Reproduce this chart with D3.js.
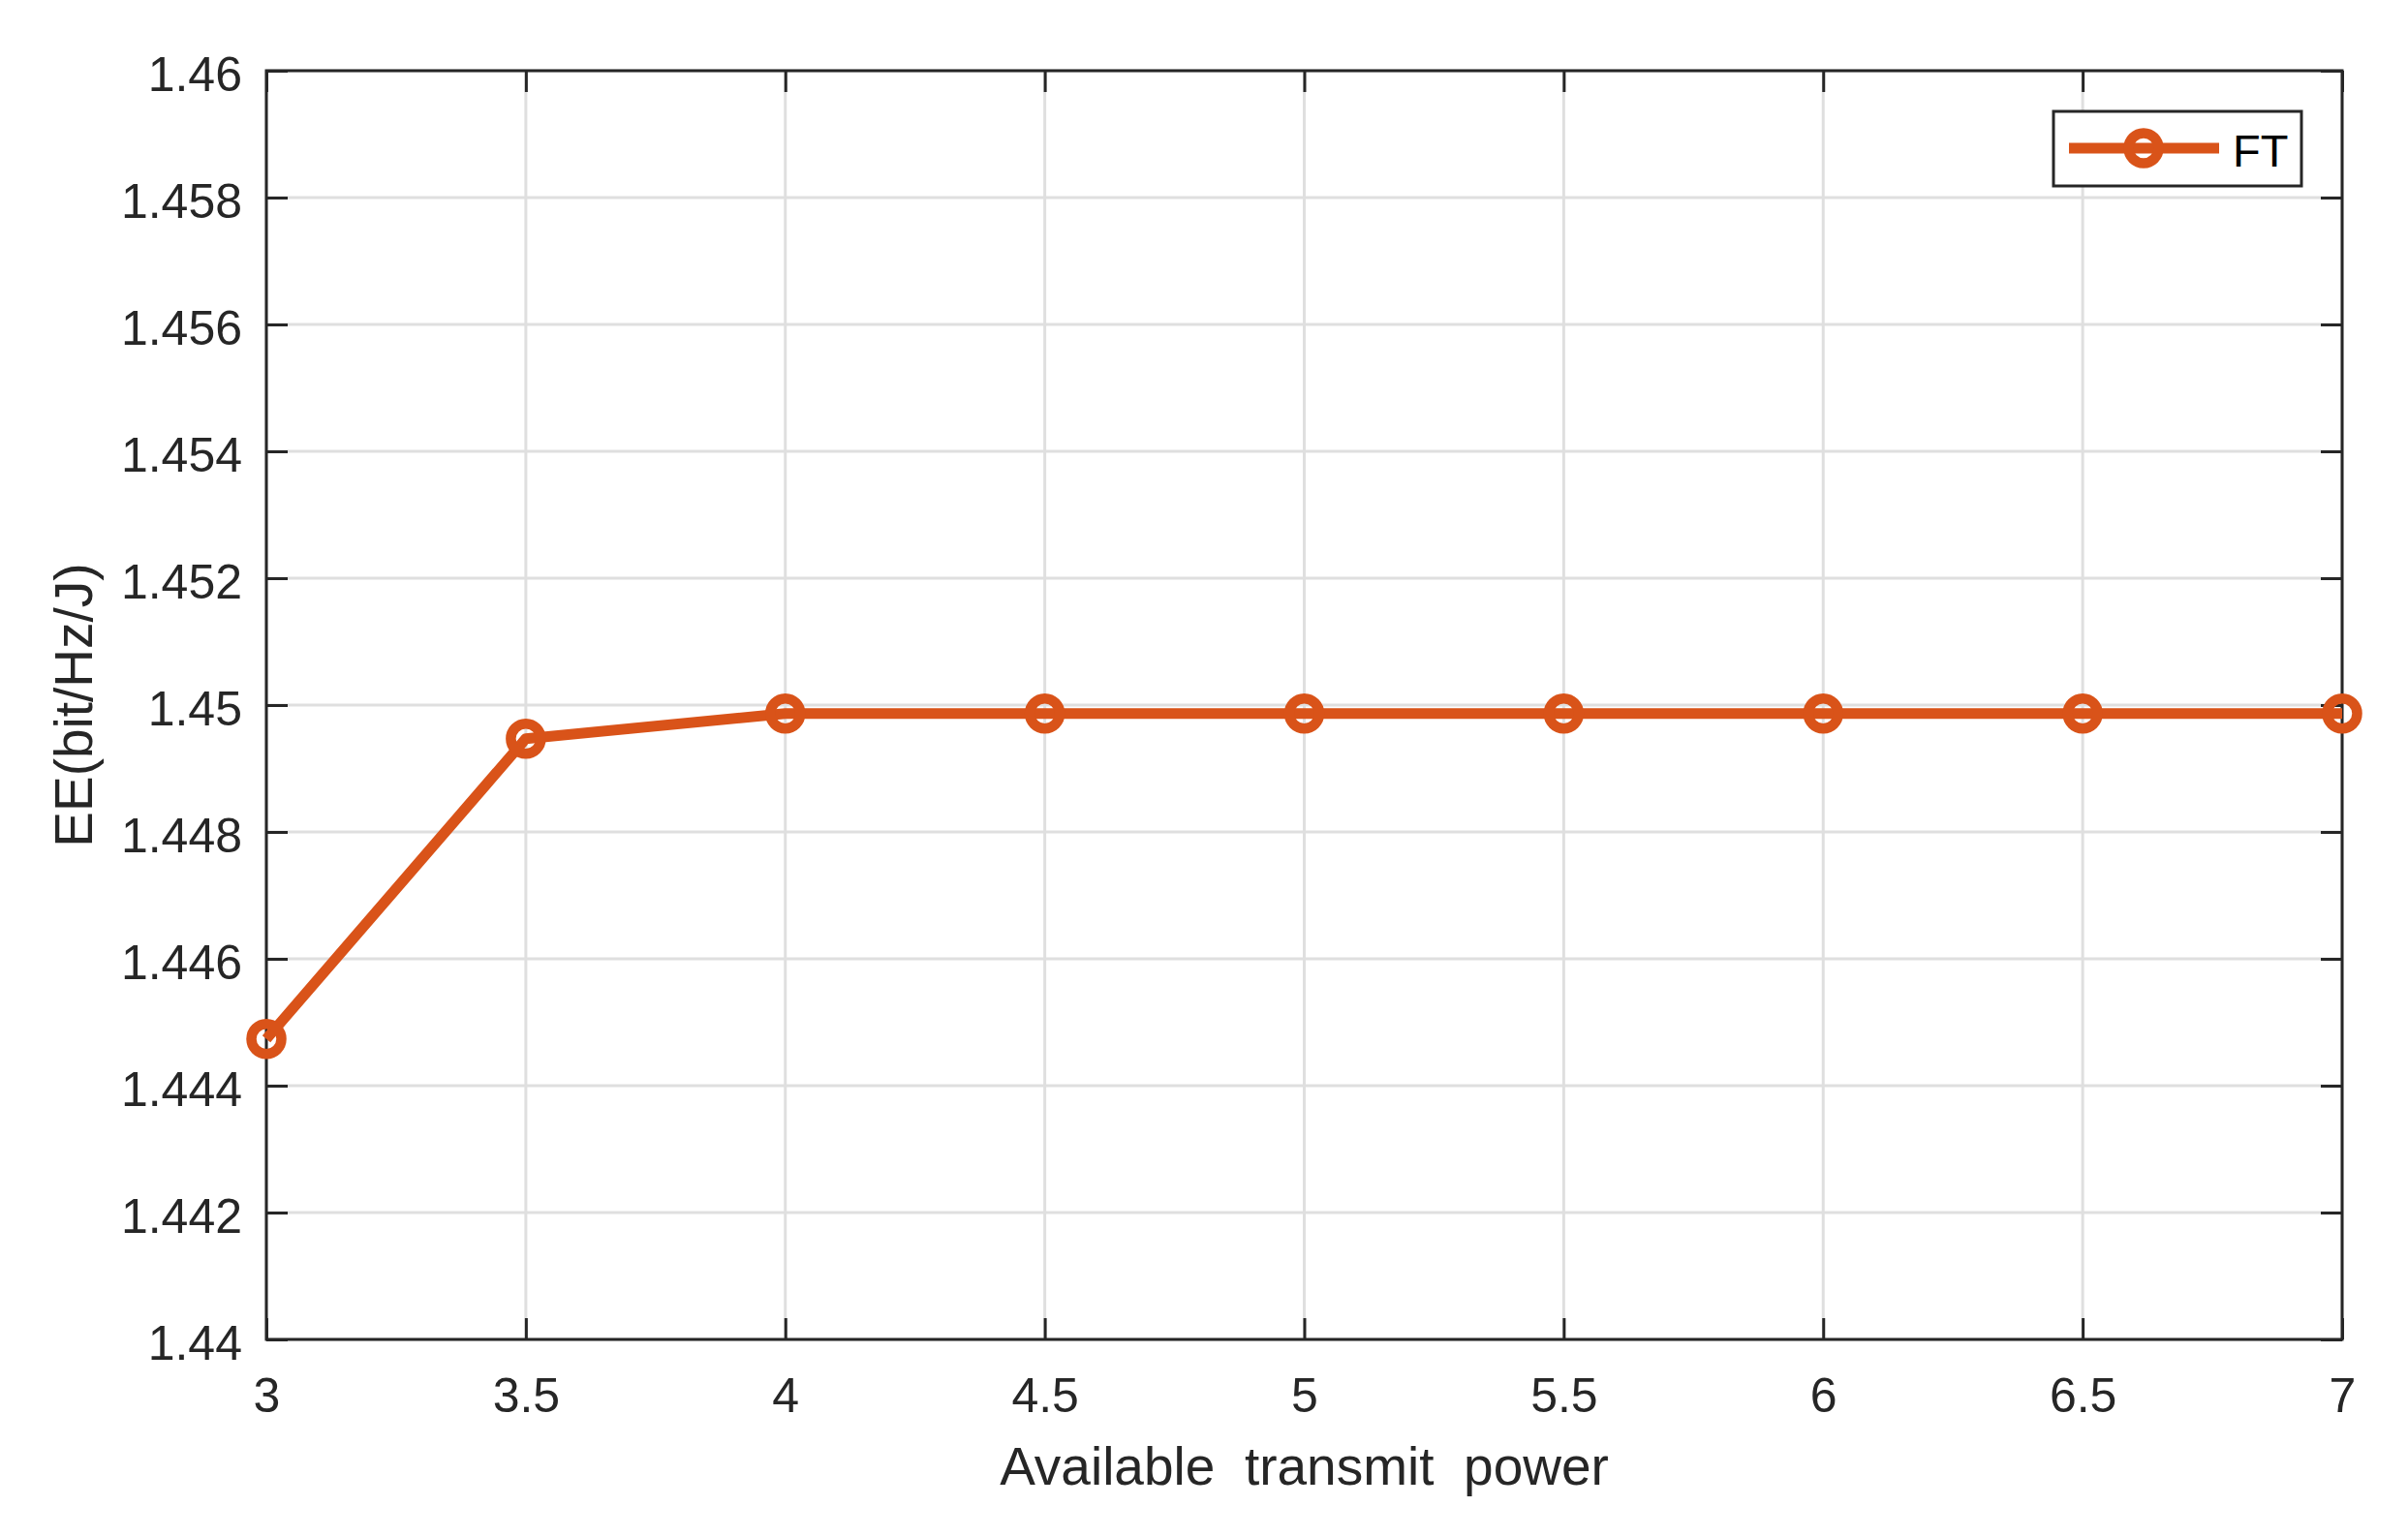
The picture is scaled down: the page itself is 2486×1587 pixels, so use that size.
<!DOCTYPE html>
<html>
<head>
<meta charset="utf-8">
<script src="https://cdn.jsdelivr.net/npm/d3@7"></script>
<style>
	body { margin: 0; background: #fff; }
	svg { display: block; }
	text { font-family: "Liberation Sans", Arial, sans-serif; fill: #262626; }
</style>
</head>
<body>
<div id="chart"></div>
<script>
'use strict';

// data
var power = [3, 3.5, 4, 4.5, 5, 5.5, 6, 6.5, 7];
var eeFT = [1.444737, 1.449470, 1.449867, 1.449867, 1.449867, 1.449867, 1.449867, 1.449867, 1.449867];
var xTicks = [3, 3.5, 4, 4.5, 5, 5.5, 6, 6.5, 7];
var yTicks = [1.44, 1.442, 1.444, 1.446, 1.448, 1.45, 1.452, 1.454, 1.456, 1.458, 1.46];
var seriesName = 'FT';

// constants
var width = 2486,
    height = 1587,
    margin = {top: 73, right: 68, bottom: 204, left: 275},
    innerW = width - margin.left - margin.right,
    innerH = height - margin.top - margin.bottom,
    axisColor = '#262626',
    gridColor = '#dfdfdf',
    lineColor = '#d95319',
    fontSize = 50;

var svg = d3.select('#chart')
	.append('svg')
	.attr('width', width)
	.attr('height', height);

svg.append('rect')
	.attr('width', width)
	.attr('height', height)
	.attr('fill', '#fff');

var x = d3.scaleLinear().domain([3, 7]).range([0, innerW]);
var y = d3.scaleLinear().domain([1.44, 1.46]).range([innerH, 0]);

var g = svg.append('g')
	.attr('transform', 'translate(' + margin.left + ',' + margin.top + ')');

// grid
g.append('g').selectAll('line')
	.data(xTicks)
	.enter().append('line')
	.attr('x1', function(d) { return x(d); })
	.attr('x2', function(d) { return x(d); })
	.attr('y1', 0)
	.attr('y2', innerH)
	.attr('stroke', gridColor)
	.attr('stroke-width', 3);

g.append('g').selectAll('line')
	.data(yTicks)
	.enter().append('line')
	.attr('x1', 0)
	.attr('x2', innerW)
	.attr('y1', function(d) { return y(d); })
	.attr('y2', function(d) { return y(d); })
	.attr('stroke', gridColor)
	.attr('stroke-width', 3);

// axes (ticks point inward, box all round)
function styleAxis(sel) {
	sel.select('.domain').remove();
	sel.selectAll('.tick line').attr('stroke', axisColor).attr('stroke-width', 3);
	sel.selectAll('.tick text')
		.attr('fill', axisColor)
		.style('font-size', fontSize + 'px')
		.style('font-family', '"Liberation Sans", Arial, sans-serif');
}

var xAxis = g.append('g')
	.attr('transform', 'translate(0,' + innerH + ')')
	.call(d3.axisBottom(x).tickValues(xTicks).tickSizeInner(-22).tickSizeOuter(0).tickPadding(39)
		.tickFormat(function(d) { return String(d); }))
	.call(styleAxis);
xAxis.selectAll('.tick text').attr('dy', '0.71em');

g.append('g')
	.call(d3.axisTop(x).tickValues(xTicks).tickSizeInner(-22).tickSizeOuter(0).tickFormat(''))
	.call(styleAxis);

var yAxis = g.append('g')
	.call(d3.axisLeft(y).tickValues(yTicks).tickSizeInner(-22).tickSizeOuter(0).tickPadding(25)
		.tickFormat(function(d) { return String(+d.toFixed(3)); }))
	.call(styleAxis);
yAxis.selectAll('.tick text').attr('dy', '0.4em');

g.append('g')
	.attr('transform', 'translate(' + innerW + ',0)')
	.call(d3.axisRight(y).tickValues(yTicks).tickSizeInner(-22).tickSizeOuter(0).tickFormat(''))
	.call(styleAxis);

g.append('rect')
	.attr('width', innerW)
	.attr('height', innerH)
	.attr('fill', 'none')
	.attr('stroke', axisColor)
	.attr('stroke-width', 3);

// series
var pts = power.map(function(p, i) { return {x: p, y: eeFT[i]}; });

g.append('path')
	.datum(pts)
	.attr('fill', 'none')
	.attr('stroke', lineColor)
	.attr('stroke-width', 11)
	.attr('stroke-linejoin', 'round')
	.attr('d', d3.line()
		.x(function(d) { return x(d.x); })
		.y(function(d) { return y(d.y); }));

g.append('g').selectAll('circle')
	.data(pts)
	.enter().append('circle')
	.attr('cx', function(d) { return x(d.x); })
	.attr('cy', function(d) { return y(d.y); })
	.attr('r', 15.5)
	.attr('fill', 'none')
	.attr('stroke', lineColor)
	.attr('stroke-width', 10.5);

// axis labels
svg.append('text')
	.attr('x', margin.left + innerW / 2)
	.attr('y', 1533)
	.attr('text-anchor', 'middle')
	.style('font-size', '55px')
	.style('white-space', 'pre')
	.attr('xml:space', 'preserve')
	.text('Available  transmit  power');

svg.append('text')
	.attr('transform', 'translate(95,' + (margin.top + innerH / 2) + ') rotate(-90)')
	.attr('text-anchor', 'middle')
	.style('font-size', '55px')
	.text('EE(bit/Hz/J)');

// legend
var legend = svg.append('g').attr('transform', 'translate(2120,115)');

legend.append('rect')
	.attr('width', 256)
	.attr('height', 77)
	.attr('fill', '#fff')
	.attr('stroke', axisColor)
	.attr('stroke-width', 3);

legend.append('line')
	.attr('x1', 16)
	.attr('x2', 171)
	.attr('y1', 38)
	.attr('y2', 38)
	.attr('stroke', lineColor)
	.attr('stroke-width', 11);

legend.append('circle')
	.attr('cx', 93)
	.attr('cy', 38)
	.attr('r', 15.5)
	.attr('fill', 'none')
	.attr('stroke', lineColor)
	.attr('stroke-width', 10.5);

legend.append('text')
	.attr('x', 185)
	.attr('y', 57)
	.style('font-size', '47px')
	.style('fill', '#000')
	.text(seriesName);
</script>
</body>
</html>
